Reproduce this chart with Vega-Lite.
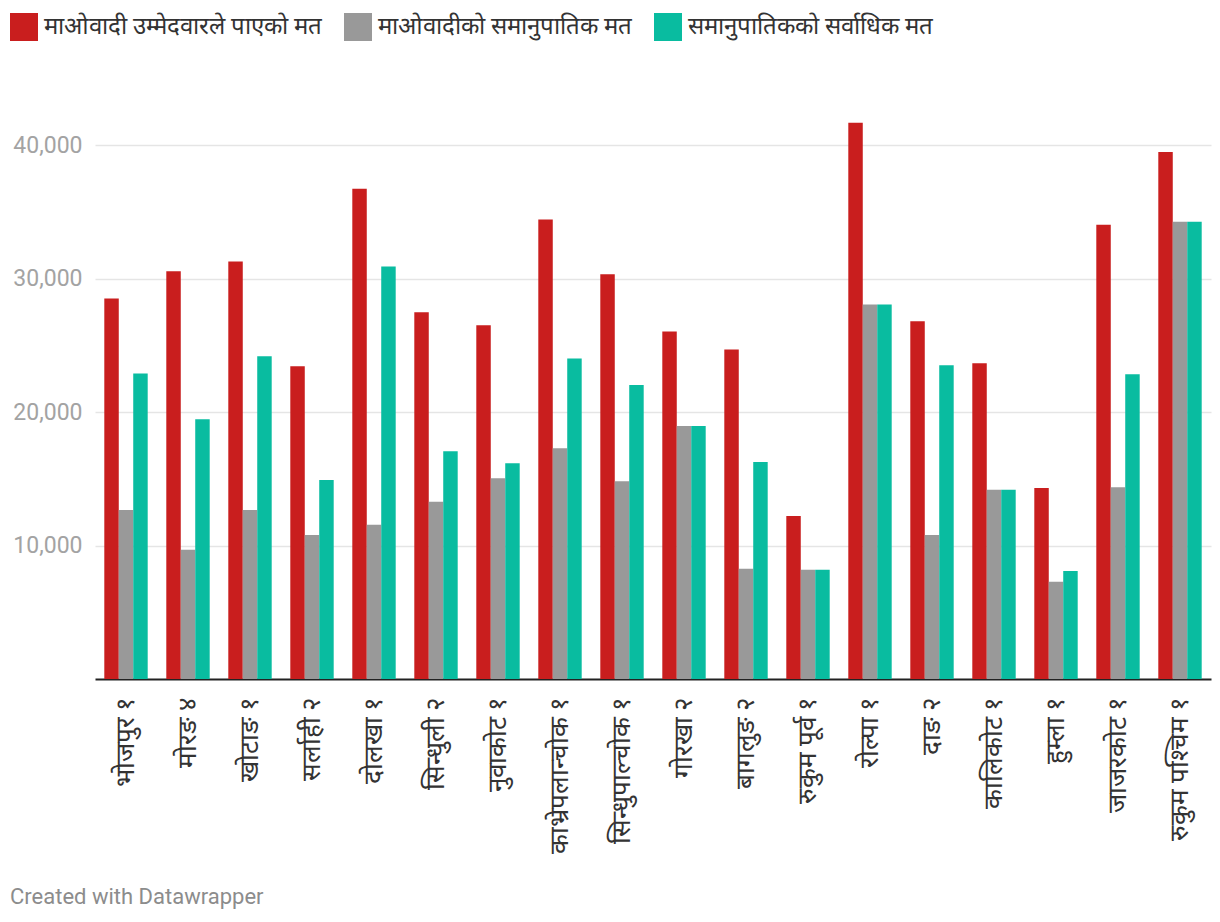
{
  "$schema": "https://vega.github.io/schema/vega-lite/v6.json",
  "autosize": {"type": "none"},
  "width": 1116,
  "height": 587,
  "padding": {"left": 95, "top": 92, "right": 9, "bottom": 243},
  "background": "white",
  "config": {
    "view": {"stroke": null},
    "font": "Roboto",
    "title": {"font": "Roboto"}
  },
  "title": {
    "text": "Created with Datawrapper",
    "orient": "bottom",
    "anchor": "start",
    "frame": "bounds",
    "dx": 0,
    "offset": 34,
    "fontSize": 22,
    "fontWeight": "normal",
    "color": "#8c8c8c"
  },
  "data": {
    "values": [
      {"c": "भोजपुर १", "s": "माओवादी उम्मेदवारले पाएको मत", "v": 28530},
      {"c": "भोजपुर १", "s": "माओवादीको समानुपातिक मत", "v": 12660},
      {"c": "भोजपुर १", "s": "समानुपातिकको सर्वाधिक मत", "v": 22900},
      {"c": "मोरङ ४", "s": "माओवादी उम्मेदवारले पाएको मत", "v": 30560},
      {"c": "मोरङ ४", "s": "माओवादीको समानुपातिक मत", "v": 9680},
      {"c": "मोरङ ४", "s": "समानुपातिकको सर्वाधिक मत", "v": 19470},
      {"c": "खोटाङ १", "s": "माओवादी उम्मेदवारले पाएको मत", "v": 31290},
      {"c": "खोटाङ १", "s": "माओवादीको समानुपातिक मत", "v": 12660},
      {"c": "खोटाङ १", "s": "समानुपातिकको सर्वाधिक मत", "v": 24200},
      {"c": "सर्लाही २", "s": "माओवादी उम्मेदवारले पाएको मत", "v": 23440},
      {"c": "सर्लाही २", "s": "माओवादीको समानुपातिक मत", "v": 10800},
      {"c": "सर्लाही २", "s": "समानुपातिकको सर्वाधिक मत", "v": 14910},
      {"c": "दोलखा १", "s": "माओवादी उम्मेदवारले पाएको मत", "v": 36750},
      {"c": "दोलखा १", "s": "माओवादीको समानुपातिक मत", "v": 11560},
      {"c": "दोलखा १", "s": "समानुपातिकको सर्वाधिक मत", "v": 30920},
      {"c": "सिन्धुली २", "s": "माओवादी उम्मेदवारले पाएको मत", "v": 27490},
      {"c": "सिन्धुली २", "s": "माओवादीको समानुपातिक मत", "v": 13280},
      {"c": "सिन्धुली २", "s": "समानुपातिकको सर्वाधिक मत", "v": 17080},
      {"c": "नुवाकोट १", "s": "माओवादी उम्मेदवारले पाएको मत", "v": 26510},
      {"c": "नुवाकोट १", "s": "माओवादीको समानुपातिक मत", "v": 15050},
      {"c": "नुवाकोट १", "s": "समानुपातिकको सर्वाधिक मत", "v": 16180},
      {"c": "काभ्रेपलान्चोक १", "s": "माओवादी उम्मेदवारले पाएको मत", "v": 34440},
      {"c": "काभ्रेपलान्चोक १", "s": "माओवादीको समानुपातिक मत", "v": 17300},
      {"c": "काभ्रेपलान्चोक १", "s": "समानुपातिकको सर्वाधिक मत", "v": 24030},
      {"c": "सिन्धुपाल्चोक १", "s": "माओवादी उम्मेदवारले पाएको मत", "v": 30330},
      {"c": "सिन्धुपाल्चोक १", "s": "माओवादीको समानुपातिक मत", "v": 14830},
      {"c": "सिन्धुपाल्चोक १", "s": "समानुपातिकको सर्वाधिक मत", "v": 22030},
      {"c": "गोरखा २", "s": "माओवादी उम्मेदवारले पाएको मत", "v": 26050},
      {"c": "गोरखा २", "s": "माओवादीको समानुपातिक मत", "v": 18960},
      {"c": "गोरखा २", "s": "समानुपातिकको सर्वाधिक मत", "v": 18960},
      {"c": "बागलुङ २", "s": "माओवादी उम्मेदवारले पाएको मत", "v": 24700},
      {"c": "बागलुङ २", "s": "माओवादीको समानुपातिक मत", "v": 8270},
      {"c": "बागलुङ २", "s": "समानुपातिकको सर्वाधिक मत", "v": 16260},
      {"c": "रुकुम पूर्व १", "s": "माओवादी उम्मेदवारले पाएको मत", "v": 12210},
      {"c": "रुकुम पूर्व १", "s": "माओवादीको समानुपातिक मत", "v": 8190},
      {"c": "रुकुम पूर्व १", "s": "समानुपातिकको सर्वाधिक मत", "v": 8190},
      {"c": "रोल्पा १", "s": "माओवादी उम्मेदवारले पाएको मत", "v": 41700},
      {"c": "रोल्पा १", "s": "माओवादीको समानुपातिक मत", "v": 28080},
      {"c": "रोल्पा १", "s": "समानुपातिकको सर्वाधिक मत", "v": 28080},
      {"c": "दाङ २", "s": "माओवादी उम्मेदवारले पाएको मत", "v": 26810},
      {"c": "दाङ २", "s": "माओवादीको समानुपातिक मत", "v": 10800},
      {"c": "दाङ २", "s": "समानुपातिकको सर्वाधिक मत", "v": 23520},
      {"c": "कालिकोट १", "s": "माओवादी उम्मेदवारले पाएको मत", "v": 23660},
      {"c": "कालिकोट १", "s": "माओवादीको समानुपातिक मत", "v": 14180},
      {"c": "कालिकोट १", "s": "समानुपातिकको सर्वाधिक मत", "v": 14180},
      {"c": "हुम्ला १", "s": "माओवादी उम्मेदवारले पाएको मत", "v": 14320},
      {"c": "हुम्ला १", "s": "माओवादीको समानुपातिक मत", "v": 7290},
      {"c": "हुम्ला १", "s": "समानुपातिकको सर्वाधिक मत", "v": 8100},
      {"c": "जाजरकोट १", "s": "माओवादी उम्मेदवारले पाएको मत", "v": 34050},
      {"c": "जाजरकोट १", "s": "माओवादीको समानुपातिक मत", "v": 14380},
      {"c": "जाजरकोट १", "s": "समानुपातिकको सर्वाधिक मत", "v": 22850},
      {"c": "रुकुम पश्चिम १", "s": "माओवादी उम्मेदवारले पाएको मत", "v": 39500},
      {"c": "रुकुम पश्चिम १", "s": "माओवादीको समानुपातिक मत", "v": 34270},
      {"c": "रुकुम पश्चिम १", "s": "समानुपातिकको सर्वाधिक मत", "v": 34270}
    ]
  },
  "mark": {"type": "bar"},
  "encoding": {
    "x": {
      "field": "c",
      "type": "nominal",
      "sort": null,
      "scale": {"paddingInner": 0.3, "paddingOuter": 0.15},
      "axis": {
        "title": null,
        "labelAngle": -90,
        "labelAlign": "right",
        "labelBaseline": "middle",
        "labelFontSize": 26,
        "labelColor": "#333333",
        "labelPadding": 17,
        "ticks": false,
        "domain": true,
        "domainColor": "#222222",
        "domainWidth": 2,
        "grid": false,
        "labelLimit": 300
      }
    },
    "xOffset": {
      "field": "s",
      "type": "nominal",
      "sort": ["माओवादी उम्मेदवारले पाएको मत", "माओवादीको समानुपातिक मत", "समानुपातिकको सर्वाधिक मत"],
      "scale": {"paddingInner": 0, "paddingOuter": 0}
    },
    "y": {
      "field": "v",
      "type": "quantitative",
      "scale": {"domain": [0, 44000], "nice": false},
      "axis": {
        "title": null,
        "values": [10000, 20000, 30000, 40000],
        "format": ",.0f",
        "domain": false,
        "ticks": false,
        "grid": true,
        "gridColor": "#e5e5e5",
        "gridWidth": 1.5,
        "labelFontSize": 23,
        "labelColor": "#a3a3a3",
        "labelPadding": 13
      }
    },
    "color": {
      "field": "s",
      "type": "nominal",
      "sort": ["माओवादी उम्मेदवारले पाएको मत", "माओवादीको समानुपातिक मत", "समानुपातिकको सर्वाधिक मत"],
      "scale": {"range": ["#c91e1e", "#999999", "#09bca0"]},
      "legend": {
        "title": null,
        "orient": "none",
        "legendX": -85,
        "legendY": -79,
        "direction": "horizontal",
        "symbolType": "square",
        "symbolSize": 784,
        "symbolStrokeWidth": 0,
        "symbolOpacity": 1,
        "labelFontSize": 24,
        "labelColor": "#333333",
        "labelOffset": 6,
        "columnPadding": 22,
        "labelLimit": 400
      }
    }
  }
}
